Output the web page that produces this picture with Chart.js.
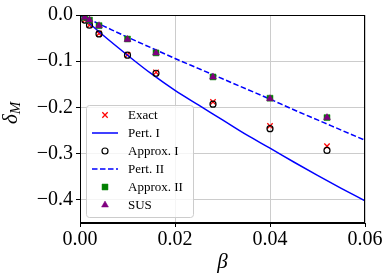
<!DOCTYPE html>
<html>
<head>
<meta charset="utf-8">
<script src="https://cdn.jsdelivr.net/npm/chart.js@4/dist/chart.umd.min.js"></script>
<style>
  html, body { margin: 0; padding: 0; background: #fff; }
  #wrap { width: 390px; height: 280px; }
</style>
</head>
<body>
<div id="wrap"><canvas id="chart" width="390" height="280"></canvas></div>
<script>
// values
const betas = [0.001, 0.002, 0.004, 0.01, 0.016, 0.028, 0.04, 0.052];
const exact = [-0.011, -0.022, -0.040, -0.086, -0.124, -0.188, -0.240, -0.284];
const approx1 = [-0.011, -0.022, -0.041, -0.087, -0.126, -0.193, -0.246, -0.293];
const approx2 = [-0.005, -0.011, -0.023, -0.052, -0.082, -0.134, -0.180, -0.222];
const sus = [-0.005, -0.011, -0.023, -0.053, -0.082, -0.134, -0.181, -0.222];

const curveBetas = [0, 0.005, 0.01, 0.015, 0.02, 0.025, 0.03, 0.035, 0.04, 0.045, 0.05, 0.055, 0.06];
const pert1 = [0, -0.045, -0.087, -0.127, -0.163, -0.195, -0.227, -0.259, -0.288, -0.318, -0.347, -0.375, -0.402];
const pert2 = [0, -0.024, -0.048, -0.071, -0.094, -0.116, -0.138, -0.160, -0.182, -0.205, -0.227, -0.249, -0.271];

const xTicks = [0, 0.02, 0.04, 0.06];
const yTicks = [0, -0.1, -0.2, -0.3, -0.4];

function pts(xs, ys) {
    return xs.map(function (x, i) { return { x: x, y: ys[i] }; });
}

const serif = "'Liberation Serif', 'DejaVu Serif', serif";

// draws the box around the axes, the legend and the y title
const extras = {
    id: 'extras',
    afterDraw: function (chart) {
        const ctx = chart.ctx;
        const a = chart.chartArea;
        ctx.save();
        ctx.strokeStyle = '#000';
        ctx.lineWidth = 1;
        ctx.strokeRect(a.left + 0.5, a.top + 0.5, a.right - a.left - 1, a.bottom - a.top - 1);

        // legend
        const lx = 86, ly = 105, lw = 107, lh = 112;
        ctx.beginPath();
        ctx.roundRect(lx + 0.5, ly + 0.5, lw, lh, 3);
        ctx.fillStyle = 'rgba(255,255,255,0.8)';
        ctx.fill();
        ctx.strokeStyle = '#cccccc';
        ctx.lineWidth = 1;
        ctx.stroke();

        ctx.font = '13px ' + serif;
        ctx.textBaseline = 'middle';
        ctx.textAlign = 'left';
        chart.data.datasets.forEach(function (ds, i) {
            const y = 115 + i * 18;
            if (ds.showLine) {
                ctx.beginPath();
                ctx.strokeStyle = ds.borderColor;
                ctx.lineWidth = ds.borderWidth;
                ctx.setLineDash(ds.borderDash || []);
                ctx.moveTo(92, y);
                ctx.lineTo(118, y);
                ctx.stroke();
                ctx.setLineDash([]);
            } else {
                ctx.fillStyle = ds.backgroundColor;
                ctx.strokeStyle = ds.borderColor;
                ctx.lineWidth = ds.borderWidth;
                Chart.helpers.drawPoint(ctx, {
                    pointStyle: ds.pointStyle,
                    radius: ds.pointRadius,
                    rotation: 0,
                    borderWidth: ds.borderWidth
                }, 105, y);
            }
            ctx.fillStyle = '#000';
            ctx.fillText(ds.label, 128, y + 1);
        });

        // y title: delta with subscript M
        ctx.translate(11, 113);
        ctx.rotate(-Math.PI / 2);
        ctx.fillStyle = '#000';
        ctx.textBaseline = 'alphabetic';
        ctx.font = 'italic 21px ' + serif;
        const dw = ctx.measureText('δ').width;
        ctx.fillText('δ', -11, 6);
        ctx.font = 'italic 15px ' + serif;
        ctx.fillText('M', -11 + dw, 9);
        ctx.restore();
    }
};

new Chart(document.getElementById('chart'), {
    type: 'scatter',
    data: {
        datasets: [{
            label: 'Exact',
            data: pts(betas, exact),
            pointStyle: 'crossRot',
            pointRadius: 3.8,
            borderColor: '#ff0000',
            backgroundColor: '#ff0000',
            borderWidth: 1.3,
            order: 6,
        }, {
            label: 'Pert. I',
            data: pts(curveBetas, pert1),
            showLine: true,
            pointRadius: 0,
            borderColor: '#0000ff',
            backgroundColor: '#0000ff',
            borderWidth: 1.5,
            cubicInterpolationMode: 'monotone',
            order: 5,
        }, {
            label: 'Approx. I',
            data: pts(betas, approx1),
            pointStyle: 'circle',
            pointRadius: 3,
            borderColor: '#000000',
            backgroundColor: 'rgba(0,0,0,0)',
            borderWidth: 1.2,
            order: 4,
        }, {
            label: 'Pert. II',
            data: pts(curveBetas, pert2),
            showLine: true,
            pointRadius: 0,
            borderColor: '#0000ff',
            backgroundColor: '#0000ff',
            borderWidth: 1.5,
            borderDash: [5.5, 2.5],
            cubicInterpolationMode: 'monotone',
            order: 3,
        }, {
            label: 'Approx. II',
            data: pts(betas, approx2),
            pointStyle: 'rect',
            pointRadius: 4.2,
            borderColor: '#008000',
            backgroundColor: '#008000',
            borderWidth: 0.5,
            order: 2,
        }, {
            label: 'SUS',
            data: pts(betas, sus),
            pointStyle: 'triangle',
            pointRadius: 4,
            borderColor: '#800080',
            backgroundColor: '#800080',
            borderWidth: 0.5,
            order: 1,
        }],
    },
    options: {
        responsive: false,
        animation: false,
        events: [],
        layout: {
            padding: { top: 14, right: 25, left: 0, bottom: 0 },
        },
        plugins: {
            legend: { display: false },
            tooltip: { enabled: false },
        },
        scales: {
            x: {
                type: 'linear',
                min: 0,
                max: 0.06,
                afterBuildTicks: function (scale) {
                    scale.ticks = xTicks.map(function (v) { return { value: v }; });
                },
                afterFit: function (scale) {
                    scale.height = 57;
                },
                grid: {
                    color: '#cccccc',
                    tickColor: '#000',
                    tickLength: 4,
                },
                border: { color: '#000' },
                ticks: {
                    color: '#000',
                    padding: 1,
                    maxRotation: 0,
                    font: { family: serif, size: 20 },
                    callback: function (v) { return v.toFixed(2); },
                },
                title: {
                    display: true,
                    text: 'β',
                    color: '#000',
                    font: { family: serif, size: 21, style: 'italic' },
                    padding: { top: 0, bottom: 5 },
                },
            },
            y: {
                min: -0.45,
                max: 0,
                afterBuildTicks: function (scale) {
                    scale.ticks = yTicks.map(function (v) { return { value: v }; });
                },
                afterFit: function (scale) {
                    scale.width = 80;
                },
                grid: {
                    color: '#cccccc',
                    tickColor: '#000',
                    tickLength: 4,
                },
                border: { color: '#000' },
                ticks: {
                    color: '#000',
                    padding: 3,
                    font: { family: serif, size: 20 },
                    callback: function (v) {
                        const s = Math.abs(v).toFixed(1);
                        return v < -1e-9 ? '\u2212' + s : s;
                    },
                },
            },
        },
    },
    plugins: [extras],
});
</script>
</body>
</html>
